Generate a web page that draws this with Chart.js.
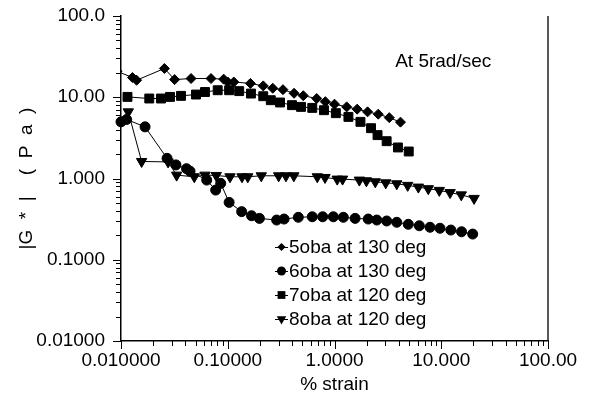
<!DOCTYPE html>
<html>
<head>
<meta charset="utf-8">
<script src="https://cdn.jsdelivr.net/npm/chart.js@4.4.1/dist/chart.umd.min.js"></script>
<style>
  html, body { margin: 0; padding: 0; background: #fff; }
  #wrap { width: 589px; height: 400px; }
</style>
</head>
<body>
<div id="wrap"><canvas id="strainChart" width="589" height="400"></canvas></div>
<script>
// strain sweep at 5 rad/s: % strain vs |G*| (Pa)
const strain5 = [0.00917, 0.0128, 0.0140, 0.0255, 0.0318, 0.0453, 0.0697, 0.0916, 0.0999, 0.114, 0.163, 0.215, 0.264, 0.329, 0.418, 0.510, 0.681, 0.820, 1.00, 1.30, 1.63, 2.04, 2.57, 3.26, 4.15];
const modulus5 = [20.9, 17.5, 16.2, 22.6, 16.5, 17.0, 17.0, 16.7, 15.4, 15.4, 14.8, 13.8, 12.9, 12.4, 11.2, 10.45, 9.65, 8.82, 8.22, 7.61, 7.13, 6.61, 6.19, 5.61, 4.94];

const strain6 = [0.0100, 0.0113, 0.0168, 0.0270, 0.0327, 0.0411, 0.0443, 0.0635, 0.0771, 0.0859, 0.103, 0.135, 0.167, 0.198, 0.287, 0.337, 0.458, 0.619, 0.775, 0.975, 1.21, 1.56, 2.07, 2.49, 3.08, 3.83, 4.91, 6.23, 7.85, 9.73, 12.3, 15.5, 19.7];
const modulus6 = [4.98, 5.33, 4.32, 1.77, 1.47, 1.32, 1.23, 0.956, 0.72, 0.871, 0.508, 0.391, 0.348, 0.323, 0.308, 0.317, 0.333, 0.338, 0.338, 0.338, 0.333, 0.323, 0.317, 0.308, 0.300, 0.289, 0.273, 0.262, 0.251, 0.244, 0.232, 0.221, 0.207];

const strain7 = [0.0115, 0.0184, 0.0237, 0.0288, 0.0365, 0.0504, 0.0612, 0.0805, 0.103, 0.128, 0.165, 0.215, 0.253, 0.309, 0.400, 0.486, 0.619, 0.797, 1.03, 1.35, 1.75, 2.20, 2.53, 3.08, 3.93, 4.96];
const modulus7 = [10.1, 9.65, 9.65, 10.1, 10.4, 10.8, 11.6, 12.2, 12.2, 11.9, 11.1, 10.3, 9.20, 8.62, 7.99, 7.61, 7.40, 6.93, 6.37, 5.73, 4.98, 4.16, 3.42, 2.88, 2.41, 2.15];

const strain8 = [0.0117, 0.0156, 0.0276, 0.0332, 0.0486, 0.0612, 0.0780, 0.105, 0.136, 0.154, 0.206, 0.300, 0.351, 0.416, 0.690, 0.815, 1.06, 1.19, 1.71, 1.99, 2.41, 3.02, 3.83, 4.85, 6.10, 7.56, 9.59, 12.1, 15.4, 20.3];
const modulus8 = [6.61, 1.62, 1.60, 1.10, 1.05, 1.10, 1.09, 1.05, 1.05, 1.05, 1.08, 1.08, 1.08, 1.08, 1.05, 1.03, 0.983, 0.983, 0.956, 0.937, 0.911, 0.885, 0.861, 0.823, 0.784, 0.749, 0.714, 0.671, 0.629, 0.569];

const seriesNames = ['5oba at 130 deg', '6oba at 130 deg', '7oba at 120 deg', '8oba at 120 deg'];
const seriesMarkers = ['rectRot', 'circle', 'rect', 'triangle'];

const xDecades = [0.01, 0.1, 1, 10, 100];
const xTickLabels = ['0.010000', '0.10000', '1.0000', '10.000', '100.00'];
const yDecades = [0.01, 0.1, 1, 10, 100];
const yTickLabels = ['0.01000', '0.1000', '1.000', '10.00', '100.0'];

const noteText = 'At 5rad/sec';

const FONT = 'Arial, "Liberation Sans", sans-serif';
Chart.defaults.font.family = FONT;
Chart.defaults.font.size = 19;
Chart.defaults.color = '#000';

// 1..9 x each decade, the decades themselves are the major ticks
function logTickValues(decades) {
    const out = [];
    for (let i = 0; i < decades.length - 1; i++) {
        for (let m = 1; m < 10; m++) out.push(m * decades[i]);
    }
    out.push(decades[decades.length - 1]);
    return out;
}
function decadeIndex(decades, v) {
    return decades.findIndex(d => Math.abs(d - v) / d < 1e-6);
}

const xTickValues = logTickValues(xDecades);
const yTickValues = logTickValues(yDecades);

function toPoints(xs, ys) {
    return xs.map((x, i) => ({ x: x, y: ys[i] }));
}

function makeSet(i, xs, ys, radius, extra) {
    return Object.assign({
        label: seriesNames[i],
        data: toPoints(xs, ys),
        showLine: true,
        borderColor: '#000',
        borderWidth: 1,
        backgroundColor: '#000',
        pointStyle: seriesMarkers[i],
        pointRadius: radius,
        pointBorderWidth: 1,
        pointBorderColor: '#000',
        pointBackgroundColor: '#000',
        tension: 0
    }, extra || {});
}

// tick marks: longer at decades, short for the minor ones, drawn outwards
const tickMarks = {
    id: 'tickMarks',
    afterDraw(chart) {
        const { ctx, chartArea, scales } = chart;
        ctx.save();
        ctx.strokeStyle = '#000';
        ctx.lineWidth = 1;
        ctx.beginPath();
        xTickValues.forEach(v => {
            const px = Math.round(scales.x.getPixelForValue(v)) + 0.5;
            const len = decadeIndex(xDecades, v) >= 0 ? 8 : 5;
            ctx.moveTo(px, chartArea.bottom);
            ctx.lineTo(px, chartArea.bottom + len);
        });
        yTickValues.forEach(v => {
            const py = Math.round(scales.y.getPixelForValue(v)) + 0.5;
            const len = decadeIndex(yDecades, v) >= 0 ? 8 : 5;
            ctx.moveTo(chartArea.left, py);
            ctx.lineTo(chartArea.left - len, py);
        });
        ctx.stroke();

        // plain frame line on the right side
        ctx.lineWidth = 1.5;
        ctx.strokeStyle = '#222';
        ctx.beginPath();
        ctx.moveTo(chartArea.right, chartArea.top);
        ctx.lineTo(chartArea.right, chartArea.bottom);
        ctx.stroke();
        ctx.restore();
    }
};

function drawMarker(ctx, style, x, y, r) {
    ctx.beginPath();
    if (style === 'rectRot') {
        ctx.moveTo(x, y - r); ctx.lineTo(x + r, y); ctx.lineTo(x, y + r); ctx.lineTo(x - r, y);
    } else if (style === 'circle') {
        ctx.arc(x, y, r, 0, Math.PI * 2);
    } else if (style === 'rect') {
        const h = r * Math.SQRT1_2;
        ctx.rect(x - h, y - h, 2 * h, 2 * h);
    } else {
        const s = r * Math.sin(Math.PI / 3);
        ctx.moveTo(x, y + r); ctx.lineTo(x - s, y - r / 2); ctx.lineTo(x + s, y - r / 2);
    }
    ctx.closePath();
    ctx.fill();
}

// legend block inside the plot plus the frequency note
const notes = {
    id: 'notes',
    afterDraw(chart) {
        const { ctx, chartArea, scales } = chart;
        ctx.save();
        ctx.fillStyle = '#000';
        ctx.strokeStyle = '#000';
        ctx.font = '19px ' + FONT;
        ctx.textBaseline = 'middle';
        ctx.textAlign = 'left';

        ctx.fillText(noteText, scales.x.getPixelForValue(3.7), scales.y.getPixelForValue(27));

        const sizes = [4, 4.5, 5.5, 5.5];
        const left = chartArea.left + 154;
        const firstRow = chartArea.bottom - 94;
        seriesNames.forEach((name, i) => {
            const y = firstRow + i * 24;
            ctx.lineWidth = 1;
            ctx.beginPath();
            ctx.moveTo(left, y + 0.5);
            ctx.lineTo(left + 13, y + 0.5);
            ctx.stroke();
            drawMarker(ctx, seriesMarkers[i], left + 6.5, y, sizes[i]);
            ctx.fillText(name, left + 14, y + 1);
        });
        ctx.restore();
    }
};

const ctx = document.getElementById('strainChart').getContext('2d');
const strainChart = new Chart(ctx, {
    type: 'scatter',
    data: {
        datasets: [
            makeSet(0, strain5, modulus5, 5),
            makeSet(1, strain6, modulus6, 5, { clip: { left: 6, top: 0, right: 0, bottom: 0 } }),
            makeSet(2, strain7, modulus7, 6.3),
            makeSet(3, strain8, modulus8, 6, { pointRotation: 180 })
        ]
    },
    options: {
        responsive: false,
        animation: false,
        devicePixelRatio: 1,
        layout: { padding: { left: 0, right: 41, top: 16, bottom: 0 } },
        plugins: {
            legend: { display: false },
            tooltip: { enabled: false }
        },
        scales: {
            x: {
                type: 'logarithmic',
                min: 0.01,
                max: 100,
                afterBuildTicks: s => { s.ticks = xTickValues.map(v => ({ value: v })); },
                afterFit: s => { s.height = 59; },
                grid: { display: false, drawTicks: false },
                border: { display: true, color: '#000', width: 1.5 },
                ticks: {
                    autoSkip: false,
                    maxRotation: 0,
                    padding: 8,
                    color: '#000',
                    callback: v => {
                        const i = decadeIndex(xDecades, v);
                        return i >= 0 ? xTickLabels[i] : '';
                    }
                },
                title: { display: true, text: '% strain', color: '#000', padding: { top: 0, bottom: 4 } }
            },
            y: {
                type: 'logarithmic',
                min: 0.01,
                max: 100,
                afterBuildTicks: s => { s.ticks = yTickValues.map(v => ({ value: v })); },
                afterFit: s => {
                    s.width = 121;
                    // end labels may hang over the plot edges
                    s.paddingTop = 0;
                    s.paddingBottom = 0;
                },
                grid: { display: false, drawTicks: false },
                border: { display: true, color: '#000', width: 1.5 },
                ticks: {
                    autoSkip: false,
                    padding: 16,
                    color: '#000',
                    callback: v => {
                        const i = decadeIndex(yDecades, v);
                        return i >= 0 ? yTickLabels[i] : '';
                    }
                },
                title: { display: true, text: '|G  *  |    (  P  a  )', color: '#000', padding: { top: 15, bottom: 0 } }
            }
        }
    },
    plugins: [tickMarks, notes]
});
</script>
</body>
</html>
